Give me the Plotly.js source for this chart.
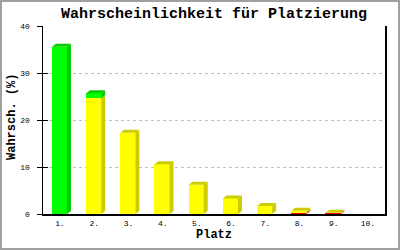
<!DOCTYPE html>
<html><head><meta charset="utf-8">
<script src="https://cdn.plot.ly/plotly-3.0.1.min.js"></script>
<style>
html,body{margin:0;padding:0;background:#fff;}
#wrap{position:relative;width:400px;height:250px;}
#frame{position:absolute;left:0;top:0;width:400px;height:250px;box-sizing:border-box;border:2px solid #a0a0a0;pointer-events:none;}
</style></head>
<body><div id="wrap"><div id="chart" style="width:400px;height:250px;"></div><div id="frame"></div></div>
<script>
const categories = ["1.","2.","3.","4.","5.","6.","7.","8.","9.","10."];
const redValues    = [0, 0, 0, 0, 0, 0, 0, 0.2, 0.15, 0];
const yellowValues = [0, 24.6, 17.3, 10.6, 6.2, 3.3, 1.7, 0.5, 0.1, 0];
const greenValues  = [35.6, 1.1, 0, 0, 0, 0, 0, 0, 0, 0];
const yTicks = [0, 10, 20, 30, 40];

const xs = categories.map((c, i) => i + 1);
const series = [
  {vals: redValues, front: "#ff0000", dark: "#cc0000"},
  {vals: yellowValues, front: "#ffff00", dark: "#cccc00"},
  {vals: greenValues, front: "#00ff00", dark: "#00cc00"}
];
const barOffset = -0.24, barWidth = 0.44;
const dx = 0.117, dy = 0.64;

const traces = series.map(s => ({
  type: "bar", x: xs, y: s.vals, offset: barOffset, width: barWidth,
  marker: {color: s.front, line: {width: 0}}, hoverinfo: "skip", showlegend: false
}));

const shapes = [];
xs.forEach((x, i) => {
  let base = 0;
  const x0 = x + barOffset, x1 = x0 + barWidth;
  let topColor = null, topVal = 0;
  series.forEach(s => {
    const v = s.vals[i];
    if (v > 0) {
      const y0 = base, y1 = base + v;
      shapes.push({type: "path", xref: "x", yref: "y", layer: "above",
        path: `M${x1},${y0} L${x1+dx},${y0+dy} L${x1+dx},${y1+dy} L${x1},${y1} Z`,
        fillcolor: s.dark, line: {width: 0}});
      topColor = s.dark; topVal = y1;
      base = y1;
    }
  });
  if (topColor) {
    shapes.push({type: "path", xref: "x", yref: "y", layer: "above",
      path: `M${x0},${topVal} L${x0+dx},${topVal+dy} L${x1+dx},${topVal+dy} L${x1},${topVal} Z`,
      fillcolor: topColor, line: {width: 0}});
  }
});

const mono = "Liberation Mono, DejaVu Sans Mono, monospace";
const layout = {
  width: 400, height: 250,
  margin: {l: 43, r: 15, t: 26, b: 36},
  paper_bgcolor: "#ffffff", plot_bgcolor: "#ffffff",
  barmode: "stack",
  title: {text: "<b>Wahrscheinlichkeit für Platzierung</b>", font: {family: mono, size: 15, color: "#000"},
    x: 0.5, xanchor: "center", y: 0.948, yanchor: "middle", xref: "paper"},
  xaxis: {range: [0.5, 10.5], tickvals: xs, ticktext: categories, ticks: "", showgrid: false, zeroline: false,
    showline: true, linecolor: "#000", linewidth: 1.5,
    tickfont: {family: mono, size: 8, color: "#000"}, ticklabelstandoff: 1,
    title: {text: "<b>Platz</b>", font: {family: mono, size: 12, color: "#000"}, standoff: 2}},
  yaxis: {range: [0, 40], tickvals: yTicks, ticks: "outside", ticklen: 5, tickcolor: "#000",
    showline: true, mirror: true, linecolor: "#000", linewidth: 1.5, zeroline: false,
    showgrid: true, gridcolor: "#c0c0c0", griddash: "dot", gridwidth: 1,
    tickfont: {family: mono, size: 8, color: "#000"}, ticklabelstandoff: 5},
  yaxis2: {range: [0, 40], tickvals: yTicks, ticks: "inside", ticklen: 5, tickcolor: "#000",
    overlaying: "y", side: "left", showticklabels: false, showgrid: false, zeroline: false, showline: false},
  annotations: [{text: "<b>Wahrsch. (%)</b>", xref: "paper", yref: "paper", x: -0.0906, y: 0.516,
    xanchor: "center", yanchor: "middle", textangle: -90, showarrow: false,
    font: {family: mono, size: 12, color: "#000"}}],
  shapes: shapes
};
traces.push({type: "scatter", x: [1], y: [0], yaxis: "y2", mode: "none", hoverinfo: "skip", showlegend: false});
Plotly.newPlot("chart", traces, layout, {displayModeBar: false, staticPlot: true});
</script></body></html>
